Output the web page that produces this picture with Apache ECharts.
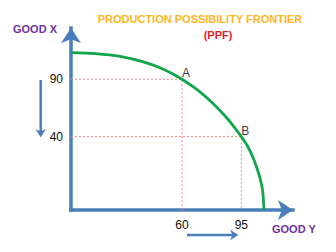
<!DOCTYPE html>
<html>
<head>
<meta charset="utf-8">
<style>html,body{margin:0;padding:0;background:#fff}#c{width:336px;height:252px}</style>
<script src="https://cdn.jsdelivr.net/npm/echarts@6/dist/echarts.min.js"></script>
</head>
<body>
<div id="c"></div>
<script>
// Data (schematic axis units)
const curveX = [-5.5, 8.7, 23.4, 38.2, 50.0, 60, 69.5, 77.7, 85.4, 91.3, 95, 99.0, 102.5, 105.5, 107.5, 108.4];
const curveY = [113.1, 112.2, 109.8, 104.6, 98.1, 90, 80.2, 69.7, 58.0, 47.5, 40, 31.0, 19.7, 6.6, -6.5, -23.9];
const pointNames = ['A', 'B'];
const pointX = [60, 95];
const pointY = [90, 40];
const xTicks = [60, 95];
const yTicks = [90, 40];
const X_MIN = -5.5, X_MAX = 125.5;
const Y_MIN = -23.9, Y_MAX = 134.6;

const FONT = 'Liberation Sans, Arial, sans-serif';
const BLUE = '#4A7EBB';

const chart = echarts.init(document.getElementById('c'), null, {renderer: 'svg'});

const curveData = curveX.map((x, i) => [x, curveY[i]]);
const guideSeries = pointX.map((x, i) => ({
  type: 'line',
  data: [[X_MIN, pointY[i]], [x, pointY[i]], [x, Y_MIN]],
  symbol: 'none',
  silent: true,
  lineStyle: {color: '#EE8080', width: 1, type: [2, 2]},
  z: 1
}));

chart.setOption({
  animation: false,
  grid: {left: 71, right: 43, top: 28, bottom: 42, containLabel: false, outerBoundsMode: 'none'},
  xAxis: {
    type: 'value', min: X_MIN, max: X_MAX,
    splitLine: {show: false},
    axisTick: {show: false},
    axisLine: {show: true, onZero: false, symbol: ['none', 'arrow'], symbolSize: [15, 15],
      lineStyle: {color: BLUE, width: 3.5, cap: 'square'}},
    axisLabel: {customValues: xTicks, color: '#111', fontSize: 12, fontFamily: FONT, margin: 9}
  },
  yAxis: {
    type: 'value', min: Y_MIN, max: Y_MAX,
    splitLine: {show: false},
    axisTick: {show: false},
    axisLine: {show: true, onZero: false, symbol: ['none', 'arrow'], symbolSize: [15, 15],
      lineStyle: {color: BLUE, width: 3.5, cap: 'square'}},
    axisLabel: {customValues: yTicks, color: '#111', fontSize: 12, fontFamily: FONT, margin: 8}
  },
  series: [
    ...guideSeries,
    {
      type: 'line',
      data: curveData,
      smooth: 0.3,
      symbol: 'none',
      lineStyle: {color: '#13A54B', width: 2.8},
      z: 3
    },
    {
      type: 'scatter',
      data: pointX.map((x, i) => ({value: [x, pointY[i]], name: pointNames[i]})),
      symbolSize: 2,
      itemStyle: {color: 'rgba(0,0,0,0)'},
      label: {
        show: true, formatter: p => p.name,
        position: 'right', distance: 0, offset: [-1, -6],
        color: '#000', fontSize: 12, fontFamily: FONT
      },
      z: 4
    }
  ],
  graphic: [
    {type: 'text', x: 200, y: 19, style: {text: 'PRODUCTION POSSIBILITY FRONTIER', fill: '#FDB622',
      font: 'bold 11px ' + FONT, align: 'center', verticalAlign: 'middle'}},
    {type: 'text', x: 218, y: 35, style: {text: '(PPF)', fill: '#E3202A',
      font: 'bold 11px ' + FONT, align: 'center', verticalAlign: 'middle'}},
    {type: 'text', x: 13, y: 29, style: {text: 'GOOD X', fill: '#7030A0',
      font: 'bold 11px ' + FONT, align: 'left', verticalAlign: 'middle'}},
    {type: 'text', x: 272, y: 229, style: {text: 'GOOD Y', fill: '#7030A0',
      font: 'bold 11px ' + FONT, align: 'left', verticalAlign: 'middle'}},
    {type: 'line', shape: {x1: 40.7, y1: 80, x2: 40.7, y2: 132}, style: {stroke: BLUE, lineWidth: 2.5}},
    {type: 'polygon', shape: {points: [[40.7, 137.5], [35.5, 129], [40.7, 131.5], [45.9, 129]]}, style: {fill: BLUE}},
    {type: 'line', shape: {x1: 187, y1: 235, x2: 233, y2: 235}, style: {stroke: BLUE, lineWidth: 2.5}},
    {type: 'polygon', shape: {points: [[238.5, 235], [230, 229.8], [232.5, 235], [230, 240.2]]}, style: {fill: BLUE}}
  ]
});
</script>
</body>
</html>
